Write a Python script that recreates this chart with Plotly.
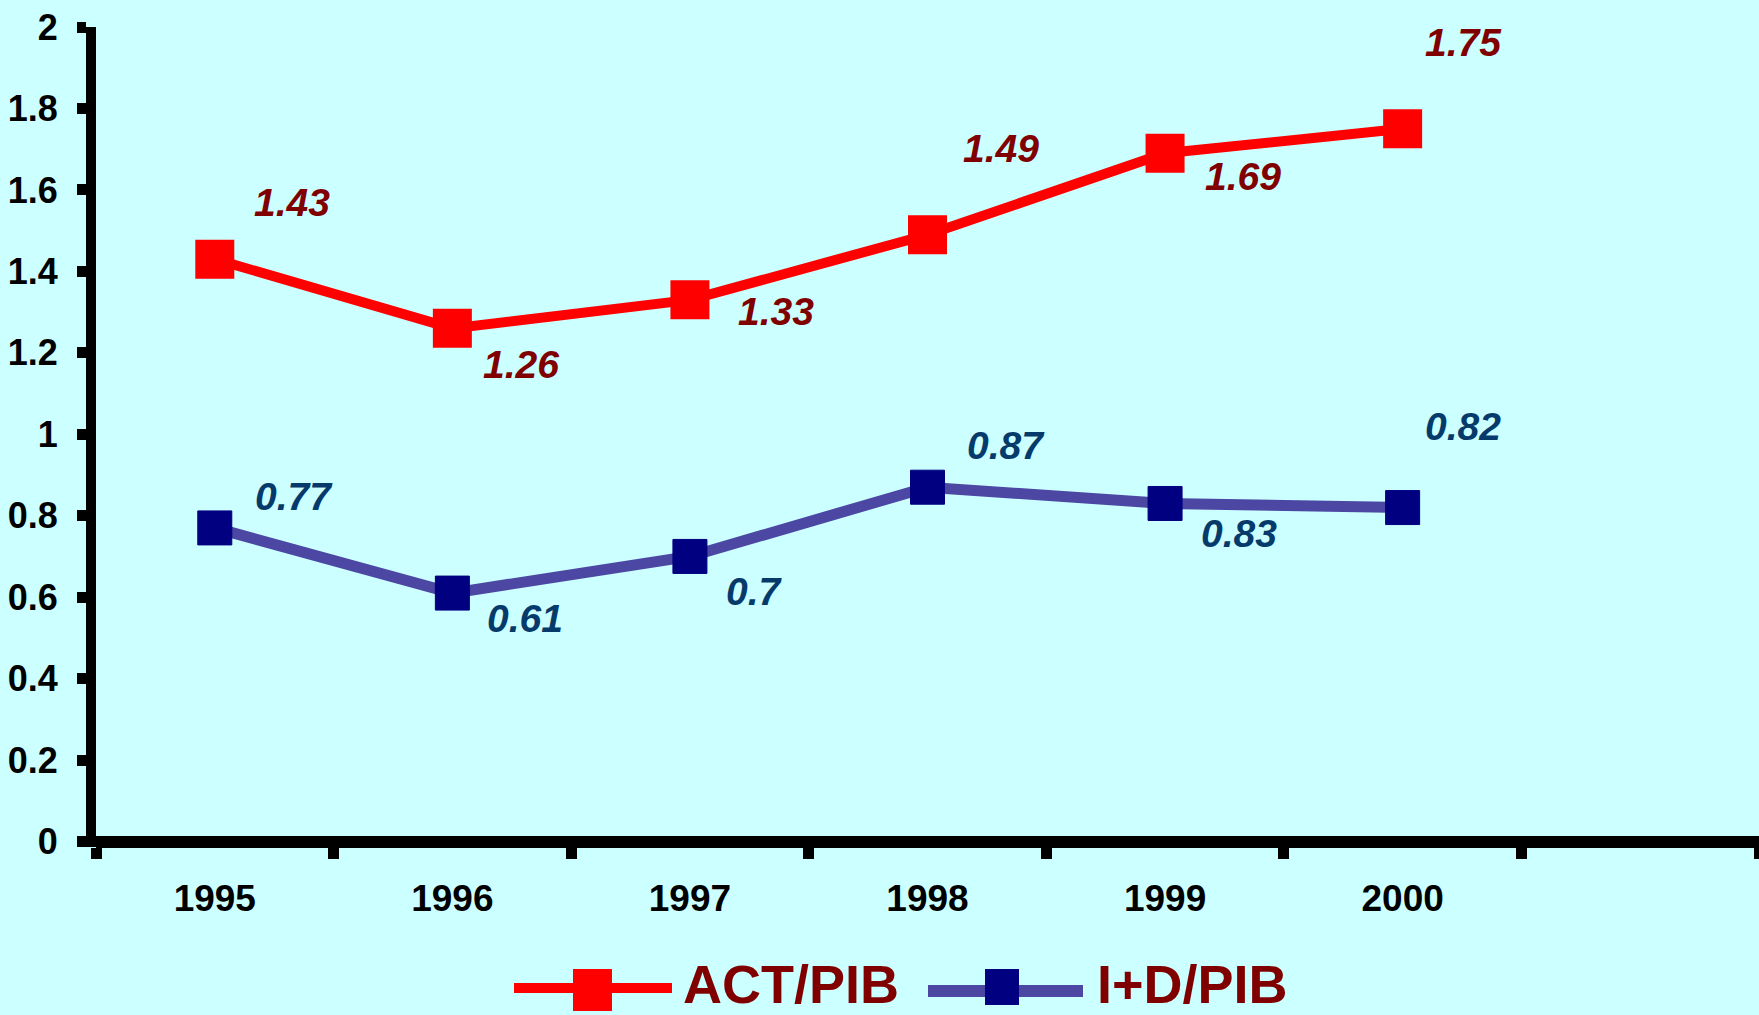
import plotly.graph_objects as go

# Series data
years = ["1995", "1996", "1997", "1998", "1999", "2000"]
act_pib = [1.43, 1.26, 1.33, 1.49, 1.69, 1.75]
id_pib = [0.77, 0.61, 0.70, 0.87, 0.83, 0.82]
y_ticks = [0, 0.2, 0.4, 0.6, 0.8, 1, 1.2, 1.4, 1.6, 1.8, 2]
series_names = ["ACT/PIB", "I+D/PIB"]

# Label placement offsets in pixels (dx right, dy up)
act_label_offsets = [(77, 57), (69, -36), (86, -12), (73, 86), (78, -23), (61, 86)]
id_label_offsets = [(79, 31), (73, -25), (65, -35), (78, 42), (74, -30), (60, 81)]

BG = "#CCFFFF"
RED = "#FF0000"
LABEL_RED = "#800000"
BLUE_LINE = "#4B47A3"
NAVY = "#000080"
LABEL_BLUE = "#053A6B"
FONT = "Liberation Sans, Arial, sans-serif"

W_PX, H_PX = 1759, 1015
M_L, M_R, M_T, M_B = 96, 0, 27, 168
PLOT_W = W_PX - M_L - M_R
PLOT_H = H_PX - M_T - M_B

x_idx = list(range(len(years)))

fig = go.Figure()
fig.add_trace(go.Scatter(
    x=x_idx, y=act_pib, mode="lines+markers", name=series_names[0],
    line=dict(color=RED, width=10),
    marker=dict(symbol="square", size=39, color=RED),
    showlegend=False,
))
fig.add_trace(go.Scatter(
    x=x_idx, y=id_pib, mode="lines+markers", name=series_names[1],
    line=dict(color=BLUE_LINE, width=11),
    marker=dict(symbol="square", size=34, color=NAVY, line=dict(color=NAVY, width=1)),
    showlegend=False,
))

annotations = []
for values, offsets, color in ((act_pib, act_label_offsets, LABEL_RED),
                               (id_pib, id_label_offsets, LABEL_BLUE)):
    for i, v in enumerate(values):
        dx, dy = offsets[i]
        annotations.append(dict(
            x=i, y=v, xref="x", yref="y", text=f"{v:g}", showarrow=False,
            xshift=dx, yshift=dy, xanchor="center", yanchor="middle",
            font=dict(family=FONT, size=39, color=color, weight="bold", style="italic"),
        ))


def px_x(px):
    return (px - M_L) / PLOT_W


def px_y(py):
    return (H_PX - M_B - py) / PLOT_H


# Custom legend at the bottom
shapes = [
    dict(type="line", xref="paper", yref="paper", x0=px_x(514), x1=px_x(672),
         y0=px_y(988), y1=px_y(988), line=dict(color=RED, width=10)),
    dict(type="rect", xref="paper", yref="paper", x0=px_x(573), x1=px_x(612),
         y0=px_y(1011), y1=px_y(969), fillcolor=RED, line=dict(width=0)),
    dict(type="line", xref="paper", yref="paper", x0=px_x(928), x1=px_x(1083),
         y0=px_y(991), y1=px_y(991), line=dict(color=BLUE_LINE, width=12)),
    dict(type="rect", xref="paper", yref="paper", x0=px_x(985), x1=px_x(1019),
         y0=px_y(1005), y1=px_y(969), fillcolor=NAVY, line=dict(width=0)),
]
for name, left in zip(series_names, (682, 1096)):
    annotations.append(dict(
        x=px_x(left), y=px_y(1015), xref="paper", yref="paper", text=name,
        showarrow=False, xanchor="left", yanchor="bottom", borderpad=0,
        font=dict(family=FONT, size=54, color=LABEL_RED, weight="bold"),
    ))

fig.update_layout(
    width=W_PX, height=H_PX,
    margin=dict(l=M_L, r=M_R, t=M_T, b=M_B, pad=0),
    paper_bgcolor=BG, plot_bgcolor=BG,
    showlegend=False,
    annotations=annotations,
    shapes=shapes,
    xaxis=dict(
        range=[-0.5, 6.5], tickmode="array", tickvals=x_idx, ticktext=years,
        ticks="", showline=False, showgrid=False, zeroline=False,
        tickfont=dict(family=FONT, size=37, color="black", weight="bold"),
        ticklabelstandoff=26,
        minor=dict(tickmode="array", tickvals=[i - 0.5 for i in range(8)],
                   ticks="outside", ticklen=11, tickwidth=11, tickcolor="black",
                   showgrid=False),
    ),
    yaxis=dict(
        range=[-0.0135, 2], tickmode="array", tickvals=y_ticks,
        ticktext=[f"{v:g}" for v in y_ticks],
        ticks="outside", ticklen=9, tickwidth=11, tickcolor="black",
        showline=True, linewidth=10, linecolor="black",
        showgrid=False, zeroline=True, zerolinewidth=12, zerolinecolor="black",
        tickfont=dict(family=FONT, size=36, color="black", weight="bold"),
        ticklabelstandoff=12,
    ),
)

fig.write_html("out.html")
